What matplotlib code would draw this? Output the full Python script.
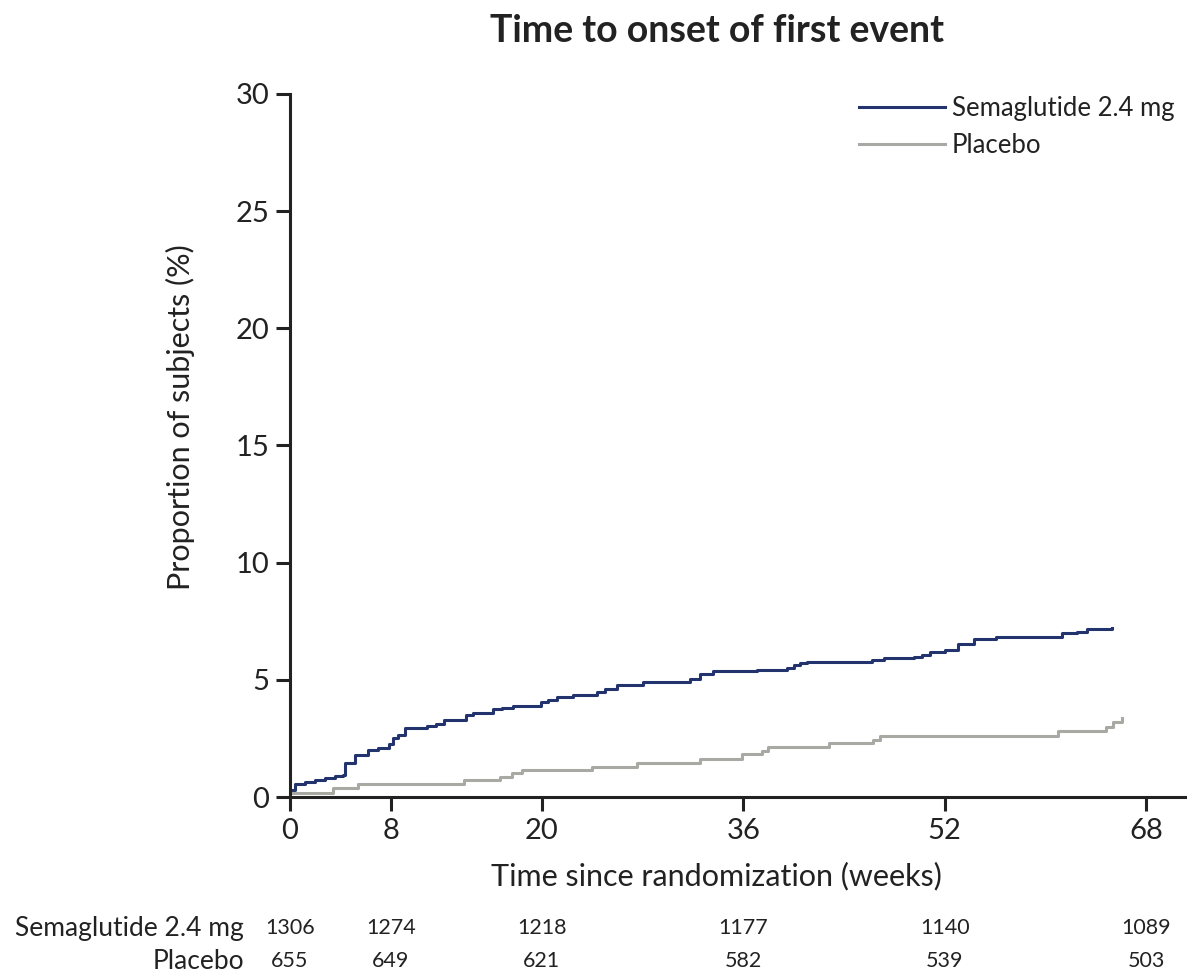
import matplotlib.pyplot as plt
from matplotlib import transforms

plt.rcParams['font.family'] = ['Lato', 'DejaVu Sans']

# cumulative incidence curves (weeks, % of subjects)
sema_weeks = [0, 0.4, 1.2, 2.0, 2.8, 3.6, 4.2, 4.4, 5.2, 6.2, 7.0, 7.9, 8.2, 8.6, 9.1,
              10.9, 11.6, 12.2, 14.0, 14.5, 16.1, 16.8, 17.7, 19.9, 20.5, 21.2, 22.5,
              24.4, 25.0, 26.0, 28.0, 31.8, 32.6, 33.6, 37.1, 39.5, 40.0, 40.5, 41.1,
              46.2, 47.2, 49.6, 50.2, 50.8, 52.0, 53.1, 54.3, 56.1, 61.3, 62.5, 63.3, 65.3]
sema_pct = [0.30, 0.54, 0.62, 0.72, 0.80, 0.88, 0.95, 1.45, 1.80, 2.00, 2.10, 2.25, 2.50,
            2.65, 2.94, 3.02, 3.12, 3.30, 3.50, 3.60, 3.74, 3.80, 3.88, 4.07, 4.15, 4.25,
            4.35, 4.50, 4.62, 4.78, 4.92, 5.02, 5.25, 5.38, 5.42, 5.52, 5.62, 5.70, 5.76,
            5.85, 5.92, 5.99, 6.08, 6.18, 6.27, 6.51, 6.73, 6.82, 6.98, 7.05, 7.17, 7.22]

plac_weeks = [0, 3.4, 5.4, 13.8, 16.7, 17.6, 18.4, 24.0, 27.6, 32.6, 35.9, 37.5, 38.0,
              42.8, 46.3, 46.9, 61.0, 64.8, 65.4, 66.1]
plac_pct = [0.17, 0.37, 0.54, 0.73, 0.87, 1.01, 1.15, 1.29, 1.44, 1.62, 1.84, 1.98, 2.12,
            2.29, 2.45, 2.62, 2.82, 2.98, 3.20, 3.36]

# number at risk
risk_weeks = [0, 8, 20, 36, 52, 68]
risk_sema = [1306, 1274, 1218, 1177, 1140, 1089]
risk_plac = [655, 649, 621, 582, 539, 503]

arms = ['Semaglutide 2.4 mg', 'Placebo']
colors = ['#22336e', '#a9a9a3']
text_col = '#222222'

fig = plt.figure(figsize=(11.95, 9.76), dpi=100)
ax = fig.add_axes([0.2427, 0.1834, 0.749, 0.7203])

ax.step(sema_weeks, sema_pct, where='post', color=colors[0], lw=2.2, label=arms[0])
ax.step(plac_weeks, plac_pct, where='post', color=colors[1], lw=2.2, label=arms[1])

ax.set_xlim(0, 71.1)
ax.set_ylim(0, 30)
ax.set_xticks(risk_weeks)
ax.set_yticks([0, 5, 10, 15, 20, 25, 30])
ax.spines[['top', 'right']].set_visible(False)
for s in ['left', 'bottom']:
    ax.spines[s].set_linewidth(2.2)
    ax.spines[s].set_color(text_col)
ax.tick_params(length=10, width=2.2, color=text_col, labelsize=21,
               labelcolor=text_col, pad=5)
for sp in ax.spines.values():
    sp.set_clip_on(False)

ax.set_xlabel('Time since randomization (weeks)', fontsize=22, color=text_col)
ax.set_ylabel('Proportion of subjects (%)', fontsize=22, color=text_col)
ax.xaxis.set_label_coords(0.476, -0.092)
ax.yaxis.set_label_coords(-0.106, 0.54)
fig.text(0.6, 0.968, 'Time to onset of first event', ha='center', va='center',
         fontsize=27, fontweight='bold', color=text_col)

leg = ax.legend(loc='upper right', bbox_to_anchor=(1.014, 1.03), frameon=False,
                fontsize=18.5, handlelength=3.35, handletextpad=0.25, labelspacing=0.45,
                labelcolor=text_col)

# number-at-risk table below the axis
trans = transforms.blended_transform_factory(ax.transData, fig.transFigure)
row_y = [0.049, 0.015]
for label, counts, y in zip(arms, [risk_sema, risk_plac], row_y):
    fig.text(0.204, y, label, ha='right', va='center', fontsize=19, color=text_col)
    for wk, n in zip(risk_weeks, counts):
        ax.text(wk, y, str(n), transform=trans, ha='center', va='center',
                fontsize=15.5, color=text_col, clip_on=False)

fig.savefig('out.png', dpi=100)
